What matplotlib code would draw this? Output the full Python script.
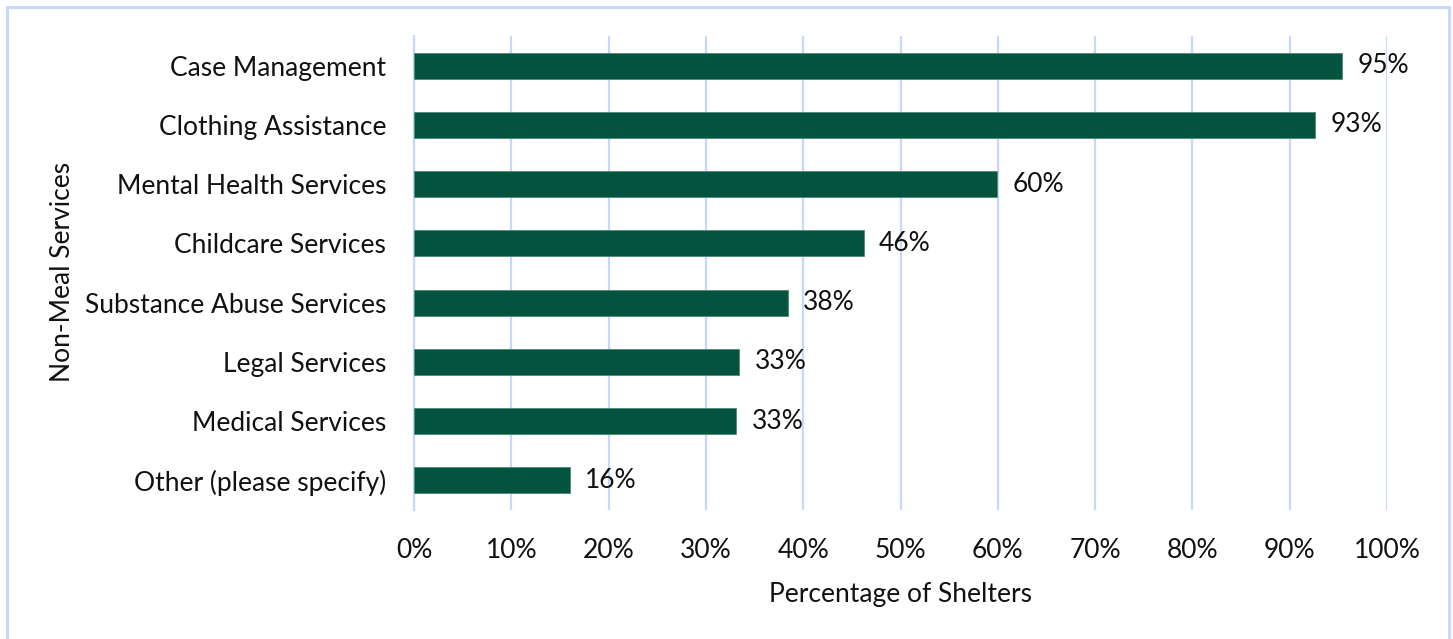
import matplotlib.pyplot as plt
from matplotlib.patches import Rectangle
from matplotlib.ticker import FuncFormatter

plt.rcParams['font.family'] = ['Lato', 'DejaVu Sans']

services = [
    "Case Management",
    "Clothing Assistance",
    "Mental Health Services",
    "Childcare Services",
    "Substance Abuse Services",
    "Legal Services",
    "Medical Services",
    "Other (please specify)",
]
share = [95.4, 92.6, 59.9, 46.2, 38.4, 33.4, 33.1, 16.0]

bar_color = "#03543F"
grid_color = "#C6D9F8"
text_color = "#111111"

fig = plt.figure(figsize=(14.53, 6.39), dpi=100)
ax = fig.add_axes([0.285, 0.2019, 0.6696, 0.7418])

pos = list(range(len(services)))[::-1]
ax.barh(pos, share, height=0.44, color=bar_color, edgecolor="#4E8A78",
        linewidth=0.6, zorder=3)

for y, v in zip(pos, share):
    ax.text(v + 1.6, y, f"{v:.0f}%", va="center", ha="left", fontsize=19,
            color=text_color)

ax.set_xlim(0, 100)
ax.set_ylim(-0.5, len(services) - 0.5)
ax.set_xticks(range(0, 101, 10))
ax.xaxis.set_major_formatter(FuncFormatter(lambda x, _: f"{x:.0f}%"))
ax.set_yticks(pos)
ax.set_yticklabels(services)

ax.grid(axis="x", color=grid_color, linewidth=1.6, zorder=0)
ax.tick_params(axis="both", length=0, labelsize=19, colors=text_color)
ax.tick_params(axis="x", pad=20)
ax.tick_params(axis="y", pad=20)
for side in ["top", "right", "bottom"]:
    ax.spines[side].set_visible(False)
ax.spines["left"].set_color(grid_color)
ax.spines["left"].set_linewidth(1.6)

ax.set_xlabel("Percentage of Shelters", fontsize=19, labelpad=14, color=text_color)
fig.text(0.0427, 0.574, "Non-Meal Services", rotation=90, fontsize=19,
         ha="center", va="center", color=text_color)

# light frame around the whole chart
fig.patches.append(Rectangle((7 / 1453, -0.05), 1442 / 1453, 1.05 - 7 / 639,
                             transform=fig.transFigure, fill=False,
                             edgecolor=grid_color, linewidth=2.2))

fig.savefig("out.png", dpi=100)
